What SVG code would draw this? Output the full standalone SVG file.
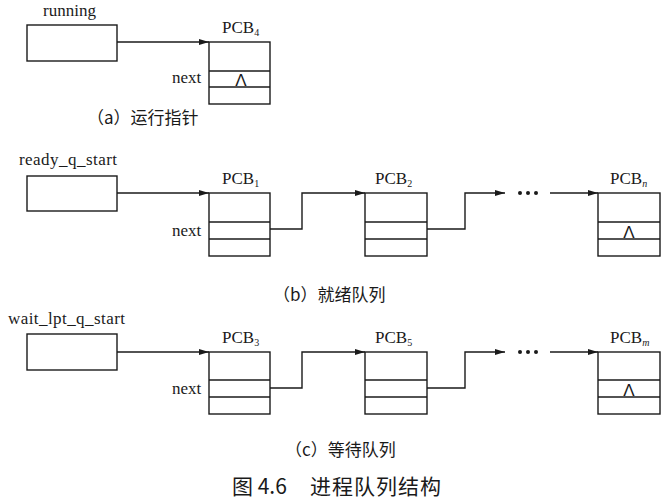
<svg xmlns="http://www.w3.org/2000/svg" width="667" height="501" viewBox="0 0 667 501">
<style>
.box{fill:none;stroke:#1a1a1a;stroke-width:1.4}
.ln{fill:none;stroke:#1a1a1a;stroke-width:1.4}
.t{font-family:"Liberation Serif","Times New Roman",serif;font-size:17px;fill:#1a1a1a}
.sub{font-size:10px}
.cap{font-family:"Noto Sans CJK SC","Liberation Serif",serif;font-size:17px;fill:#1a1a1a}
.fig{font-family:"Noto Sans CJK SC","Noto Sans",sans-serif;font-size:21px;fill:#1a1a1a}
.lam{font-family:"Liberation Sans",sans-serif;font-size:17px;fill:#1a1a1a;text-anchor:middle}
.dot{fill:#1a1a1a}
</style>
<defs>
<marker id="ah" viewBox="0 0 10 6" refX="10" refY="3" markerWidth="10" markerHeight="6" markerUnits="userSpaceOnUse" orient="auto">
<path d="M0,0 L10,3 L0,6 Z" fill="#1a1a1a"/>
</marker>
</defs>
<rect width="667" height="501" fill="#ffffff"/>

<!-- (a) -->
<g id="running">
<text class="t" x="43" y="16">running</text>
<rect class="box" x="27" y="25" width="90" height="36"/>
</g>
<g id="pcb4">
<text class="t" x="222" y="33">PCB<tspan class="sub" dy="3">4</tspan></text>
<rect class="box" x="209" y="42" width="61" height="62"/>
<line class="ln" x1="209" y1="71" x2="270" y2="71"/>
<line class="ln" x1="209" y1="87" x2="270" y2="87"/>
<text class="t" x="172" y="83">next</text>
<text class="lam" x="241" y="86">Λ</text>
</g>
<text class="cap" x="87" y="124">（a）运行指针</text>

<!-- (b) -->
<g id="ready_q_start">
<text class="t" x="19" y="165" textLength="98">ready_q_start</text>
<rect class="box" x="27" y="176" width="90" height="35"/>
</g>
<g id="pcb1">
<text class="t" x="222" y="184">PCB<tspan class="sub" dy="3">1</tspan></text>
<rect class="box" x="209" y="193" width="61" height="63"/>
<line class="ln" x1="209" y1="222" x2="270" y2="222"/>
<line class="ln" x1="209" y1="239" x2="270" y2="239"/>
<text class="t" x="172" y="236">next</text>
</g>
<g id="pcb2">
<text class="t" x="375" y="184">PCB<tspan class="sub" dy="3">2</tspan></text>
<rect class="box" x="365" y="193" width="62" height="63"/>
<line class="ln" x1="365" y1="222" x2="427" y2="222"/>
<line class="ln" x1="365" y1="239" x2="427" y2="239"/>
</g>
<g id="pcbn">
<text class="t" x="610" y="184">PCB<tspan class="sub" dy="3" font-style="italic">n</tspan></text>
<rect class="box" x="598" y="193" width="62" height="63"/>
<line class="ln" x1="598" y1="222" x2="660" y2="222"/>
<line class="ln" x1="598" y1="239" x2="660" y2="239"/>
<text class="lam" x="629" y="238">Λ</text>
</g>
<g id="dots_b">
<circle class="dot" cx="520" cy="193" r="2"/>
<circle class="dot" cx="528" cy="193" r="2"/>
<circle class="dot" cx="536" cy="193" r="2"/>
</g>
<text class="cap" x="273" y="301">（b）就绪队列</text>

<!-- (c) -->
<g id="wait_lpt_q_start">
<text class="t" x="8" y="324" textLength="117">wait_lpt_q_start</text>
<rect class="box" x="27" y="334" width="90" height="36"/>
</g>
<g id="pcb3">
<text class="t" x="222" y="343">PCB<tspan class="sub" dy="3">3</tspan></text>
<rect class="box" x="209" y="352" width="61" height="62"/>
<line class="ln" x1="209" y1="380" x2="270" y2="380"/>
<line class="ln" x1="209" y1="397" x2="270" y2="397"/>
<text class="t" x="172" y="394">next</text>
</g>
<g id="pcb5">
<text class="t" x="375" y="343">PCB<tspan class="sub" dy="3">5</tspan></text>
<rect class="box" x="365" y="352" width="62" height="62"/>
<line class="ln" x1="365" y1="380" x2="427" y2="380"/>
<line class="ln" x1="365" y1="397" x2="427" y2="397"/>
</g>
<g id="pcbm">
<text class="t" x="610" y="343">PCB<tspan class="sub" dy="3" font-style="italic">m</tspan></text>
<rect class="box" x="598" y="352" width="62" height="62"/>
<line class="ln" x1="598" y1="380" x2="660" y2="380"/>
<line class="ln" x1="598" y1="397" x2="660" y2="397"/>
<text class="lam" x="629" y="396">Λ</text>
</g>
<g id="dots_c">
<circle class="dot" cx="520" cy="352" r="2"/>
<circle class="dot" cx="528" cy="352" r="2"/>
<circle class="dot" cx="536" cy="352" r="2"/>
</g>
<text class="cap" x="285" y="456">（c）等待队列</text>

<text class="fig" y="494"><tspan x="232">图 4.6</tspan><tspan x="310" letter-spacing="1">进程队列结构</tspan></text>

<g id="connectors">
<line class="ln" x1="117" y1="42" x2="209" y2="42" marker-end="url(#ah)"/>
<line class="ln" x1="117" y1="193" x2="209" y2="193" marker-end="url(#ah)"/>
<polyline class="ln" points="270,229 302,229 302,193 365,193" marker-end="url(#ah)"/>
<polyline class="ln" points="427,229 465,229 465,193 505,193" marker-end="url(#ah)"/>
<line class="ln" x1="550" y1="193" x2="598" y2="193" marker-end="url(#ah)"/>
<line class="ln" x1="117" y1="352" x2="209" y2="352" marker-end="url(#ah)"/>
<polyline class="ln" points="270,388 302,388 302,352 365,352" marker-end="url(#ah)"/>
<polyline class="ln" points="427,388 465,388 465,352 505,352" marker-end="url(#ah)"/>
<line class="ln" x1="550" y1="352" x2="598" y2="352" marker-end="url(#ah)"/>
</g>
</svg>
